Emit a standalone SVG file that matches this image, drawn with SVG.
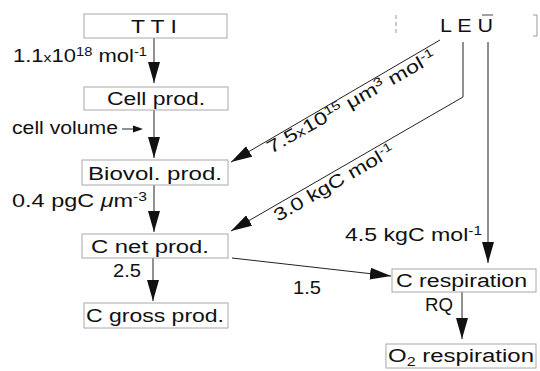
<svg xmlns="http://www.w3.org/2000/svg" width="540" height="371" viewBox="0 0 540 371">
<defs>
<marker id="ah" markerUnits="userSpaceOnUse" markerWidth="22" markerHeight="12" refX="21" refY="6" orient="auto"><path d="M0,0 L21,6 L0,12 Z" fill="#111"/></marker>
<style>
.box{fill:#fff;stroke:#a8a8a8;stroke-width:1}
.t{font-family:"Liberation Sans",Arial,sans-serif;font-size:18px;fill:#111}
.sup{font-size:12px}
.ln{fill:none;stroke:#222;stroke-width:1}
.ar{fill:none;stroke:#222;stroke-width:1;marker-end:url(#ah)}
</style>
</defs>
<rect width="540" height="371" fill="#fff"/>
<g id="connectors">
<path class="ar" d="M154,38 V83"/>
<path class="ar" d="M154,110 V158"/>
<path class="ar" d="M154,185 V232"/>
<path class="ar" d="M153,258 V301"/>
<path class="ar" d="M462,292 V339"/>
<path class="ar" d="M440,40 L231,162"/>
<path class="ar" d="M463,42 V97 L231,231"/>
<path class="ar" d="M488,42 V263"/>
<path class="ar" d="M232,258 L391,276"/>
<path class="ln" d="M122,129 H133"/>
<path d="M133,125.5 L143,129 L133,132.5 Z" fill="#111"/>
</g>
<g id="tti"><rect class="box" x="84" y="14" width="143" height="24"/><text class="t" x="131" y="33" textLength="46" lengthAdjust="spacingAndGlyphs">T T I</text></g>
<g id="leu"><path d="M396,15 V36" stroke="#999" stroke-dasharray="4 3" fill="none"/><path d="M533,15 H537 V36 H533" stroke="#999" fill="none"/><text class="t" x="440" y="32" textLength="53" lengthAdjust="spacingAndGlyphs">L E U</text><path d="M482,15 H493" stroke="#444"/></g>
<g id="cellprod"><rect class="box" x="84" y="87" width="144" height="23"/><text class="t" x="107" y="105" textLength="98" lengthAdjust="spacingAndGlyphs">Cell prod.</text></g>
<g id="biovol"><rect class="box" x="82" y="160" width="146" height="25"/><text class="t" x="88" y="180" textLength="134" lengthAdjust="spacingAndGlyphs">Biovol. prod.</text></g>
<g id="cnet"><rect class="box" x="82" y="234" width="146" height="24"/><text class="t" x="91" y="253" textLength="118" lengthAdjust="spacingAndGlyphs">C net prod.</text></g>
<g id="cgross"><rect class="box" x="84" y="303" width="144" height="25"/><text class="t" x="86" y="322" textLength="138" lengthAdjust="spacingAndGlyphs">C gross prod.</text></g>
<g id="cresp"><rect class="box" x="392" y="269" width="144" height="23"/><text class="t" x="396" y="287" textLength="131" lengthAdjust="spacingAndGlyphs">C respiration</text></g>
<g id="o2resp"><rect class="box" x="386" y="344" width="150" height="24"/><text class="t" x="388" y="362" textLength="146" lengthAdjust="spacingAndGlyphs">O<tspan class="sup" dy="4">2</tspan><tspan dy="-4">  respiration</tspan></text></g>
<g id="labels">
<text class="t" x="13" y="62" textLength="134" lengthAdjust="spacingAndGlyphs">1.1<tspan font-size="13">x</tspan>10<tspan class="sup" dy="-6">18</tspan><tspan dy="6"> mol</tspan><tspan class="sup" dy="-6">-1</tspan></text>
<text class="t" x="12" y="134" textLength="106" lengthAdjust="spacingAndGlyphs">cell volume</text>
<text class="t" x="12" y="207" textLength="135" lengthAdjust="spacingAndGlyphs">0.4 pgC <tspan font-style="italic">μ</tspan>m<tspan class="sup" dy="-6">-3</tspan></text>
<text class="t" x="113" y="277" textLength="28" lengthAdjust="spacingAndGlyphs">2.5</text>
<text class="t" x="345" y="241" textLength="137" lengthAdjust="spacingAndGlyphs">4.5 kgC mol<tspan class="sup" dy="-6">-1</tspan></text>
<text class="t" x="293" y="294" textLength="28" lengthAdjust="spacingAndGlyphs">1.5</text>
<text class="t" x="425" y="311" textLength="28" lengthAdjust="spacingAndGlyphs">RQ</text>
<text class="t" transform="translate(271,154) rotate(-29.5)" textLength="191" lengthAdjust="spacingAndGlyphs">7.5<tspan font-size="13">x</tspan>10<tspan class="sup" dy="-6">15</tspan><tspan dy="6"> μm</tspan><tspan class="sup" dy="-6">3</tspan><tspan dy="6"> mol</tspan><tspan class="sup" dy="-6">-1</tspan></text>
<text class="t" transform="translate(278,222) rotate(-30)" textLength="136" lengthAdjust="spacingAndGlyphs">3.0 kgC mol<tspan class="sup" dy="-6">-1</tspan></text>
</g>
</svg>
